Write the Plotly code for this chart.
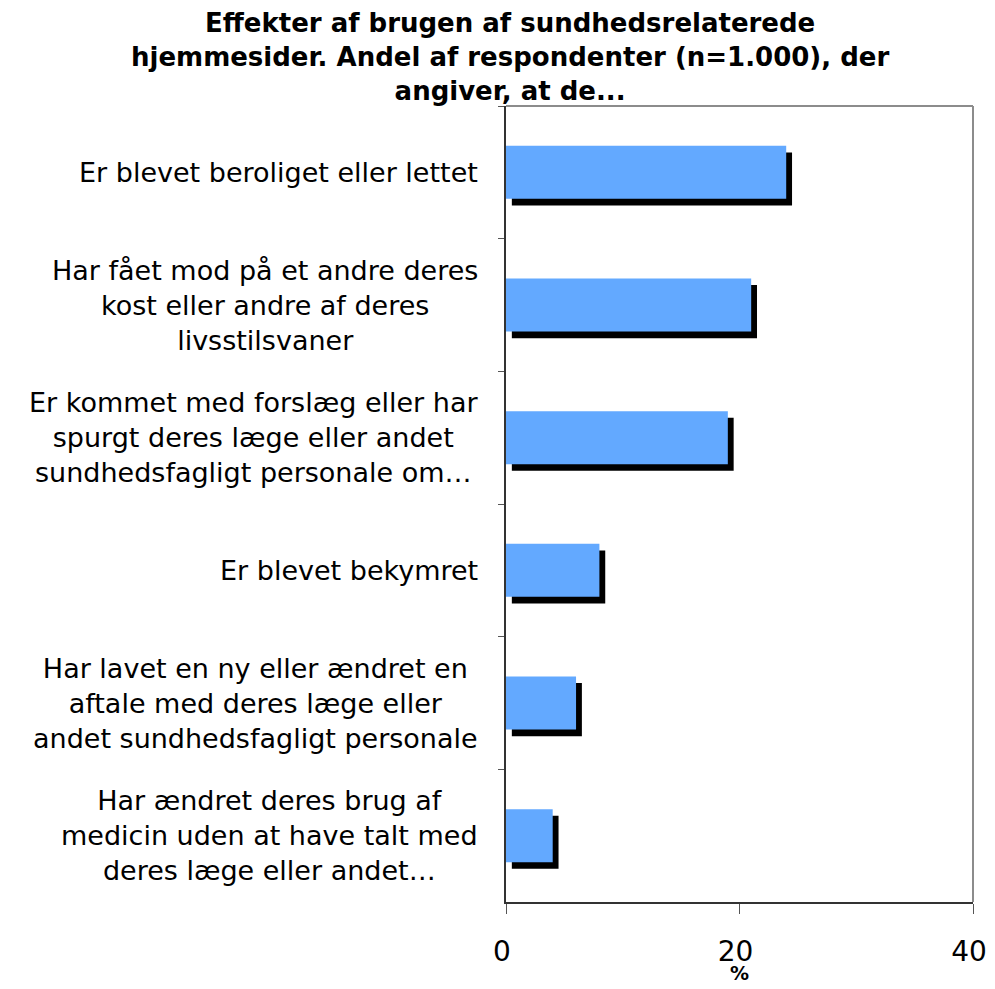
import plotly.graph_objects as go

categories = [
    "Er blevet beroliget eller lettet",
    "Har fået mod på et andre deres<br>kost eller andre af deres<br>livsstilsvaner",
    "Er kommet med forslæg eller har<br>spurgt deres læge eller andet<br>sundhedsfagligt personale om…",
    "Er blevet bekymret",
    "Har lavet en ny eller ændret en<br>aftale med deres læge eller<br>andet sundhedsfagligt personale",
    "Har ændret deres brug af<br>medicin uden at have talt med<br>deres læge eller andet…",
]
values = [24, 21, 19, 8, 6, 4]
x_ticks = [0, 20, 40]
x_title = "%"

title_text = ("Effekter af brugen af sundhedsrelaterede<br>"
              "hjemmesider. Andel af respondenter (n=1.000), der<br>"
              "angiver, at de...")

BAR_COLOR = "#63A9FF"
FONT = "DejaVu Sans"
shadow_dx = 0.5     # data units along x
bar_w = 0.4

fig = go.Figure()
# shadow
fig.add_trace(go.Bar(
    y=categories, x=values, base=shadow_dx, orientation="h",
    width=bar_w, offset=-bar_w / 2 + 0.05,
    marker=dict(color="black", line=dict(width=0)),
    hoverinfo="skip", showlegend=False,
))
# main bars
fig.add_trace(go.Bar(
    y=categories, x=values, orientation="h",
    width=bar_w, offset=-bar_w / 2,
    marker=dict(color=BAR_COLOR, line=dict(width=0)),
    showlegend=False,
))

for c in categories:
    fig.add_annotation(
        x=-0.056, xref="paper", y=c, yref="y",
        text=c, showarrow=False, xanchor="right", yanchor="middle",
        align="center", font=dict(family=FONT, size=27, color="black"),
    )

# title as annotation (centered block)
fig.add_annotation(
    x=0.0086, xref="paper", y=1.1256, yref="paper",
    text="<b>" + title_text + "</b>", showarrow=False,
    xanchor="center", yanchor="top", align="center",
    font=dict(family=FONT, size=26, color="black"),
)

fig.add_annotation(
    x=0.5, xref="paper", y=-0.0892, yref="paper",
    text="<b>" + x_title + "</b>", showarrow=False, xanchor="center", yanchor="middle",
    font=dict(family=FONT, size=19, color="black"),
)

# frame top & right (gray)
fig.add_shape(type="line", xref="paper", yref="paper", x0=0, x1=1, y0=1, y1=1,
              line=dict(color="#8C8C8C", width=2))
fig.add_shape(type="line", xref="paper", yref="paper", x0=1, x1=1, y0=0, y1=1,
              line=dict(color="#8C8C8C", width=2))

fig.update_layout(
    width=979, height=973,
    margin=dict(l=498, r=14, t=98, b=79),
    paper_bgcolor="white", plot_bgcolor="white",
    barmode="overlay",
    xaxis=dict(
        range=[0, 40], tickvals=x_ticks, ticktext=[str(t) for t in x_ticks],
        automargin=False,
        showgrid=False, zeroline=False,
        showline=True, linecolor="#333333", linewidth=2,
        ticks="outside", ticklen=10, tickcolor="#555555", tickwidth=1,
        ticklabelstandoff=13, ticklabelshift=-4, ticklabeloverflow="allow",
        tickfont=dict(family=FONT, size=28, color="black"),
    ),
    yaxis=dict(
        categoryorder="array", categoryarray=categories,
        autorange="reversed", showticklabels=False, automargin=False,
        showgrid=False, zeroline=False,
        showline=True, linecolor="#333333", linewidth=2,
        ticks="outside", ticklen=6, tickcolor="#555555", tickwidth=1,
        tickson="boundaries",
    ),
)

fig.write_html("out.html", config={"displayModeBar": False})
